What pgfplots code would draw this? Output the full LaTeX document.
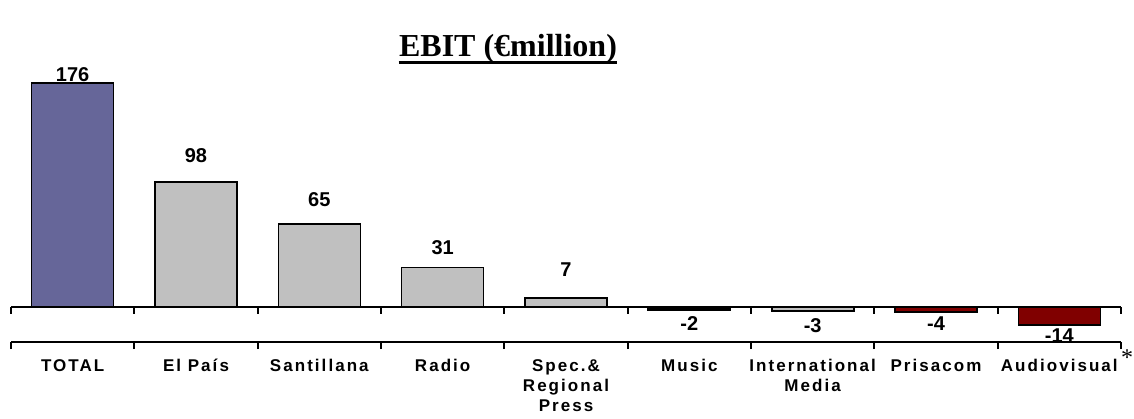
\documentclass[border=0pt]{standalone}
\usepackage{pgfplots}
\pgfplotsset{compat=1.18}
\usepackage{fontspec}
\setmainfont{Liberation Sans}
\newfontfamily\titlefont{Liberation Serif}
\newfontfamily\lsfont{Liberation Sans}[LetterSpace=12]
\definecolor{cTotal}{HTML}{666699}
\definecolor{cGray}{HTML}{C0C0C0}
\definecolor{cRed}{HTML}{800000}
\pgfplotsset{mybar/.style={ybar, bar width=0.665, bar shift=0pt, draw=black, line width=0.8pt}}
\begin{document}
\begin{tikzpicture}
\begin{axis}[at={(0,0)}, anchor=south west, scale only axis,
  width=555pt, height=129.5pt,
  xmin=-0.5, xmax=8.5, ymin=-27.5, ymax=176,
  clip=false,
  axis x line=bottom, axis y line=none,
  axis line style={-, line width=1pt},
  xtick={-0.5,0.5,1.5,2.5,3.5,4.5,5.5,6.5,7.5,8.5},
  xticklabels={TOTAL,El País,Santillana,Radio,{Spec.\&\\Regional\\Press},Music,{International\\Media},Prisacom,Audiovisual,{}},
  typeset ticklabels with strut,
  tick align=outside, major tick length=3.5pt,
  xtick style={line width=1pt, black},
  xticklabel style={xshift=30.83pt, anchor=north, align=center, inner sep=0pt, yshift=-4pt,
     font=\lsfont\bfseries\fontsize{8.5}{10}\selectfont},
  ytick=\empty,
]
\addplot[mybar, fill=cTotal] coordinates {(0,176)};
\addplot[mybar, fill=cGray] coordinates {(1,98) (2,65) (3,31) (4,7)};
\addplot[mybar, fill=cGray, line width=1.1pt] coordinates {(5,-2) (6,-3)};
\addplot[mybar, fill=cRed] coordinates {(7,-4) (8,-14)};
\addplot[draw=none, nodes near coords, point meta=explicit symbolic,
  every node near coord/.append style={anchor=center, font=\bfseries\fontsize{10}{12}\selectfont}]
  coordinates {(0,182.3)[176] (1,119.0)[98] (2,84.1)[65] (3,46.3)[31] (4,29.1)[7]
   (5,-13.0)[-2] (6,-14.5)[-3] (7,-13.4)[-4] (8,-22.4)[-14]};
\draw[line width=1pt] (axis cs:-0.5,0) -- (axis cs:8.5,0);
\pgfplotsinvokeforeach{-0.5,0.5,1.5,2.5,3.5,4.5,5.5,6.5,7.5,8.5}{
  \draw[line width=1pt] (axis cs:#1,0) -- (axis cs:#1,-5.5);
}
\end{axis}
\node[anchor=base, inner sep=0pt, font=\titlefont\bfseries\fontsize{16}{18}\selectfont] (T) at (248.5pt,142.5pt) {EBIT (€million)};
\draw[line width=1.5pt] ([yshift=-2.8pt]T.base west) -- ([yshift=-2.8pt]T.base east);
\node[font=\titlefont\fontsize{12}{12}\selectfont, inner sep=0pt] at (558pt,-8pt) {*};
\pgfresetboundingbox
\useasboundingbox (-5.5pt,-38pt) rectangle (561.5pt,171pt);
\end{tikzpicture}
\end{document}
